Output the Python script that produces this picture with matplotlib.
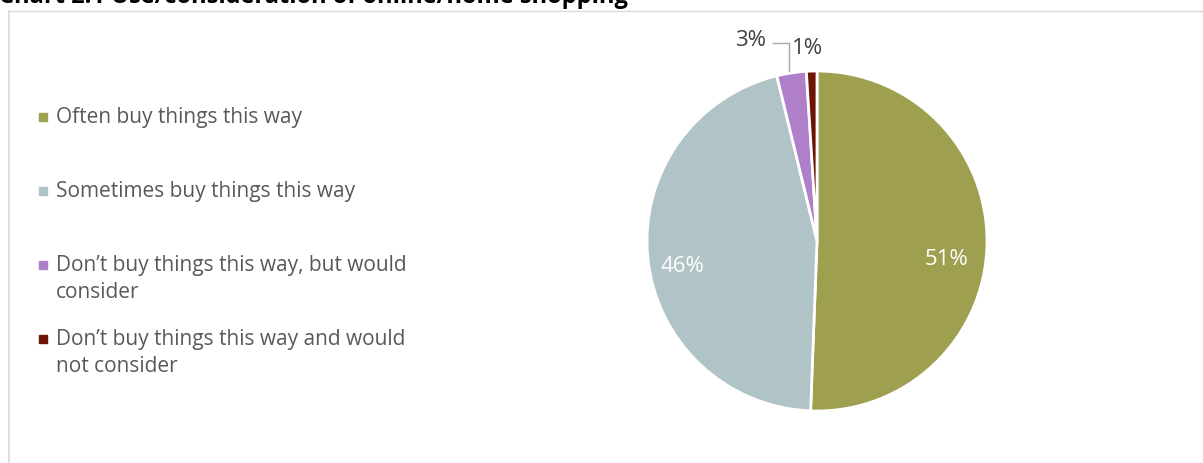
import matplotlib.pyplot as plt
from matplotlib.patches import Rectangle
from matplotlib.lines import Line2D

categories = ["Often buy things this way",
              "Sometimes buy things this way",
              "Don\u2019t buy things this way, but would\nconsider",
              "Don\u2019t buy things this way and would\nnot consider"]
shares = [50.6, 45.6, 2.8, 1.0]
pct_labels = ["51%", "46%", "3%", "1%"]
colors = ["#9E9F4F", "#B0C3C6", "#B07FC9", "#6E1406"]

W, H = 1203, 463
fig = plt.figure(figsize=(W / 100, H / 100), dpi=100)
plt.rcParams['font.family'] = ['Open Sans', 'DejaVu Sans']

def fx(px):
    return px / W

def fy(py):
    return 1 - py / H

# title, cut off at the top like the original
fig.text(fx(-1), fy(3), "Chart 2.1 Use/consideration of online/home shopping",
         fontsize=17, fontweight='bold', color='black', va='baseline', ha='left')

# chart frame
fig.add_artist(Line2D([fx(9), fx(1203)], [fy(11), fy(11)], color='#D9D9D9', lw=1))
fig.add_artist(Line2D([fx(9), fx(9)], [fy(11), fy(463)], color='#D9D9D9', lw=1.2))

# pie
ax = fig.add_axes([fx(817 - 170), fy(241 + 170), fx(340), 340 / H])
wedges, _ = ax.pie(shares, colors=colors, startangle=90, counterclock=False,
                   wedgeprops=dict(edgecolor='white', linewidth=2))
ax.set_xlim(-1, 1)
ax.set_ylim(-1, 1)
ax.set_aspect('equal')
ax.axis('off')

ax.text(0.76, -0.106, pct_labels[0], color='white', fontsize=16, ha='center', va='center')
ax.text(-0.79, -0.15, pct_labels[1], color='white', fontsize=16, ha='center', va='center')
ax.text(-0.39, 1.18, pct_labels[2], color='#404040', fontsize=16, ha='center', va='center')
ax.text(-0.055, 1.135, pct_labels[3], color='#404040', fontsize=16, ha='center', va='center')
ax.plot([-0.26, -0.165, -0.165], [1.165, 1.165, 1.0], color='#A6A6A6', lw=1, clip_on=False)

# legend
leg_y = [117, 191, 265, 339]
for y, c, lab in zip(leg_y, colors, categories):
    fig.add_artist(Rectangle((fx(39), fy(y + 4)), fx(8), 8 / H, color=c))
    for i, line in enumerate(lab.split('\n')):
        fig.text(fx(56), fy(y + 28 * i), line, fontsize=15, color='#595959',
                 va='center', ha='left')

fig.savefig("out.png", dpi=100)
